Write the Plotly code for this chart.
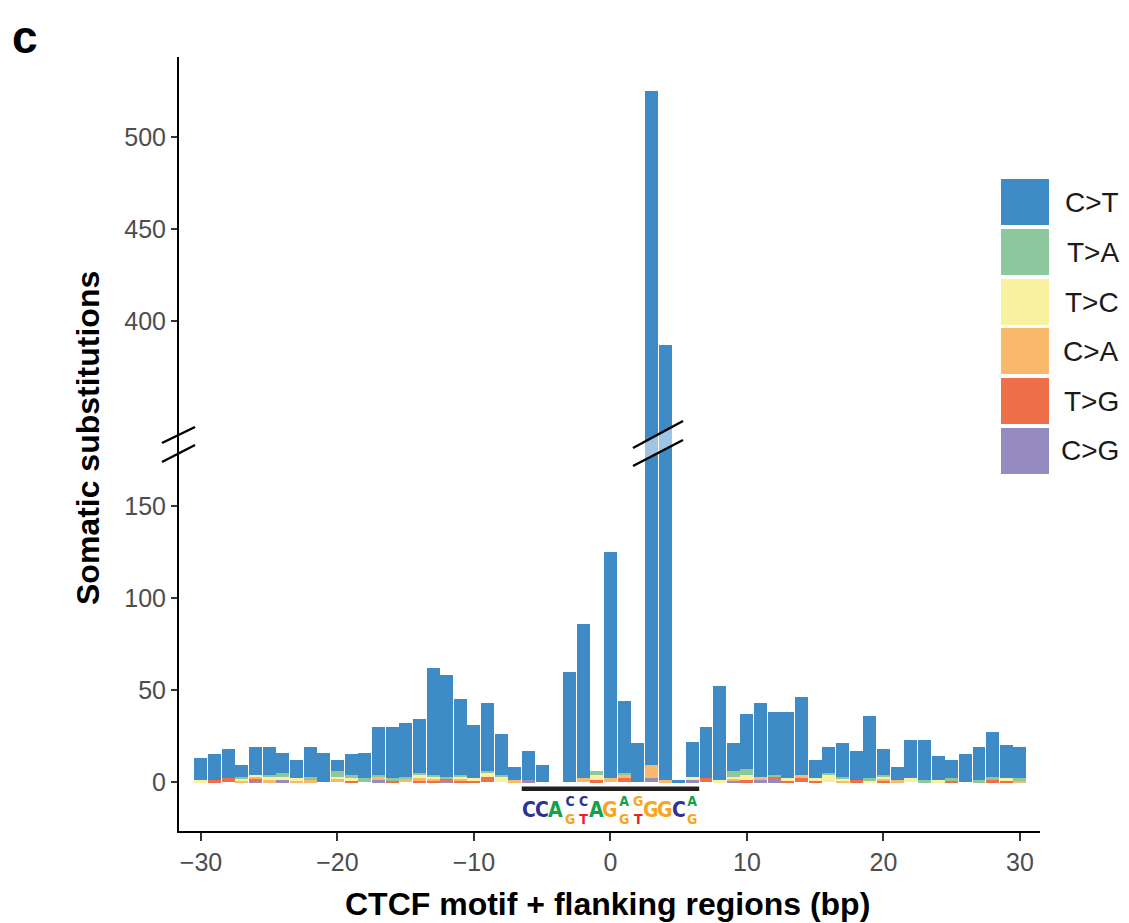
import plotly.graph_objects as go
from plotly.subplots import make_subplots

# ---------------- data ----------------
positions = list(range(-30, 31))

c_to_t = [12, 14, 16, 6, 15, 15, 11, 10, 16, 16, 6, 11, 14, 26, 28, 29, 29, 58, 55, 41,
          29, 37, 22, 7, 16, 9, 0, 60, 84, 0, 123, 39, 21, 516, 386, 1, 19, 28, 51, 15,
          30, 40, 34, 36, 42, 10, 14, 18, 16, 34, 14, 7, 21, 22, 13, 10, 15, 18, 24, 18, 17]
t_to_a = [0, 0, 0, 1, 0, 1, 2, 0, 2, 0, 3, 2, 2, 1, 1, 1, 1, 1, 1, 1,
          0, 1, 1, 0, 0, 0, 0, 0, 0, 2, 0, 1, 0, 0, 0, 0, 0, 0, 0, 3,
          3, 0, 1, 0, 0, 0, 1, 1, 0, 1, 1, 0, 0, 1, 0, 1, 0, 1, 2, 0, 1]
t_to_c = [1, 0, 0, 1, 1, 2, 2, 1, 0, 0, 1, 1, 0, 0, 0, 0, 2, 1, 0, 1,
          1, 2, 3, 0, 0, 0, 0, 0, 0, 3, 0, 0, 0, 0, 0, 0, 2, 0, 1, 1,
          3, 0, 0, 1, 0, 1, 4, 1, 0, 1, 1, 0, 2, 0, 1, 0, 0, 0, 0, 1, 0]
c_to_a = [0, 0, 0, 1, 1, 1, 0, 1, 1, 0, 2, 0, 0, 2, 0, 2, 1, 1, 0, 1,
          0, 0, 0, 1, 0, 0, 0, 0, 2, 0, 2, 2, 0, 7, 1, 0, 0, 0, 0, 1,
          0, 2, 0, 0, 2, 0, 0, 1, 0, 0, 1, 1, 0, 0, 0, 0, 0, 0, 0, 0, 1]
t_to_g = [0, 1, 2, 0, 1, 0, 0, 0, 0, 0, 0, 1, 0, 0, 1, 0, 1, 1, 1, 1,
          1, 3, 0, 0, 0, 0, 0, 0, 0, 1, 0, 2, 0, 0, 0, 0, 0, 2, 0, 0,
          1, 0, 2, 1, 2, 1, 0, 0, 1, 0, 1, 0, 0, 0, 0, 1, 0, 0, 1, 1, 0]
c_to_g = [0, 0, 0, 0, 1, 0, 1, 0, 0, 0, 0, 0, 0, 1, 0, 0, 0, 0, 1, 0,
          0, 0, 0, 0, 1, 0, 0, 0, 0, 0, 0, 0, 0, 2, 0, 0, 1, 0, 0, 1,
          0, 1, 1, 0, 0, 0, 0, 0, 0, 0, 0, 0, 0, 0, 0, 0, 0, 0, 0, 0, 0]

x_ticks = [-30, -20, -10, 0, 10, 20, 30]
y_ticks_low = [0, 50, 100, 150]
y_ticks_high = [400, 450, 500]

# CTCF core motif logo (CCASYAGRKGGCR): top letter, bottom letter (or None)
motif_pos = list(range(-6, 7))
motif_top = ["C", "C", "A", "C", "C", "A", "G", "A", "G", "G", "G", "C", "A"]
motif_bottom = [None, None, None, "G", "T", None, None, "G", "T", None, None, None, "G"]

# stacking order bottom -> top
series_names = ["C>G", "T>G", "C>A", "T>C", "T>A", "C>T"]
series_vals = [c_to_g, t_to_g, c_to_a, t_to_c, t_to_a, c_to_t]
series_cols = ["#968BBF", "#EE6F4A", "#F8B96C", "#F7F1A0", "#8DC79D", "#3E8BC5"]
letter_cols = {"C": "#2E3192", "A": "#10A24B", "G": "#F6A623", "T": "#E8202A"}

# ---------------- geometry (reference pixel coords -> paper) ----------------
OFF = 8                      # page body margin of the html page
W, H = 1129 - OFF, 923 - OFF
L, R, T, B = 179, 1040, 57, 831   # plot area in reference (window) pixels


def px(x):
    return (x - L) / (R - L)


def py(y):
    return (B - y) / (B - T)


fig = make_subplots(rows=2, cols=1, shared_xaxes=True, vertical_spacing=0)

for name, vals, col in zip(series_names, series_vals, series_cols):
    for row in (1, 2):
        fig.add_trace(go.Bar(x=positions, y=vals, name=name,
                             marker=dict(color=col, line=dict(width=0)),
                             showlegend=False), row=row, col=1)

tickfont = dict(family="Liberation Sans, Arial, sans-serif", size=25, color="#4D4D4D")
axis_common = dict(showline=True, linecolor="black", linewidth=2, ticks="outside",
                   tickcolor="#333333", tickwidth=1.5, showgrid=False, zeroline=False,
                   tickfont=tickfont)

fig.update_layout(
    width=W, height=H, barmode="stack", bargap=0.05,
    paper_bgcolor="white", plot_bgcolor="white",
    margin=dict(l=L - OFF, r=W - (R - OFF), t=T - OFF, b=H - (B - OFF)),
    font=dict(family="Liberation Sans, Arial, sans-serif"),
    showlegend=False,
)
fig.update_yaxes(row=1, col=1, range=[333.15, 543.5], tickvals=y_ticks_high,
                 ticklen=6, **axis_common)
fig.update_yaxes(row=2, col=1, range=[-26.6, 183.7], tickvals=y_ticks_low,
                 ticklen=6, **axis_common)
fig.update_xaxes(row=1, col=1, range=[-31.61, 31.47], showline=False, showticklabels=False,
                 ticks="", showgrid=False, zeroline=False)
fig.update_xaxes(row=2, col=1, range=[-31.61, 31.47], tickvals=x_ticks, ticklen=8,
                 **axis_common)

shapes = []
ann = []

# axis break marks
for (x0, y0, x1, y1) in [(162, 443, 195, 427), (162, 462, 195, 445)]:
    shapes.append(dict(type="line", xref="paper", yref="paper", x0=px(x0), y0=py(y0),
                       x1=px(x1), y1=py(y1), line=dict(color="black", width=2.5)))
path = "M {} {} L {} {} L {} {} L {} {} Z".format(px(633), py(448), px(683), py(421),
                                                  px(683), py(440), px(633), py(466))
shapes.append(dict(type="path", xref="paper", yref="paper", path=path,
                   fillcolor="rgba(255,255,255,0.5)", line=dict(width=0), layer="above"))
for (x0, y0, x1, y1) in [(633, 448, 683, 421), (633, 466, 683, 440)]:
    shapes.append(dict(type="line", xref="paper", yref="paper", x0=px(x0), y0=py(y0),
                       x1=px(x1), y1=py(y1), line=dict(color="black", width=2.5)))

# motif bar
shapes.append(dict(type="rect", xref="x2", yref="paper", x0=motif_pos[0] - 0.5,
                   x1=motif_pos[-1] + 0.5, y0=py(791), y1=py(786.5),
                   fillcolor="#231F20", line=dict(width=0)))

logo_font = "Liberation Sans Narrow, Arial Narrow, DejaVu Sans Condensed, Liberation Sans"


def span(letter):
    return '<span style="color:%s"><b>%s</b></span>' % (letter_cols[letter], letter)


for p, top, bot in zip(motif_pos, motif_top, motif_bottom):
    if bot is None:
        ann.append(dict(x=p, y=py(810), xref="x2", yref="paper", text=span(top),
                        showarrow=False, xanchor="center", yanchor="middle",
                        borderpad=0, borderwidth=0,
                        font=dict(family=logo_font, size=21, color=letter_cols[top])))
    else:
        ann.append(dict(x=p, y=py(810), xref="x2", yref="paper",
                        text=span(top) + "<br>" + span(bot),
                        showarrow=False, xanchor="center", yanchor="middle",
                        borderpad=0, borderwidth=0,
                        font=dict(family=logo_font, size=14, color=letter_cols[top])))

# legend (drawn manually to match the large swatches)
legend_order = ["C>T", "T>A", "T>C", "C>A", "T>G", "C>G"]
legend_tops = [179, 229, 279, 328, 378, 428]
for name, top in zip(legend_order, legend_tops):
    col = series_cols[series_names.index(name)]
    shapes.append(dict(type="rect", xref="paper", yref="paper", x0=px(1001), x1=px(1049),
                       y0=py(top + 46), y1=py(top), fillcolor=col, line=dict(width=0)))
    ann.append(dict(x=px(1119), y=py(top + 23), xref="paper", yref="paper",
                    text=name.replace(">", "&gt;"), showarrow=False,
                    xanchor="right", yanchor="middle", borderpad=0, borderwidth=0,
                    font=dict(size=28, color="#1A1A1A")))

# titles
ann.append(dict(x=px(88), y=py(438), xref="paper", yref="paper",
                text="<b>Somatic substitutions</b>", textangle=-90, showarrow=False,
                xanchor="center", yanchor="middle", font=dict(size=32, color="black")))
ann.append(dict(x=px(607), y=py(904), xref="paper", yref="paper",
                text="<b>CTCF motif + flanking regions (bp)</b>", showarrow=False,
                xanchor="center", yanchor="middle", font=dict(size=32, color="black")))
ann.append(dict(x=px(12), y=py(37), xref="paper", yref="paper", text="<b>c</b>",
                showarrow=False, xanchor="left", yanchor="middle",
                borderpad=0, borderwidth=0,
                font=dict(size=46, color="black")))

fig.update_layout(shapes=shapes, annotations=ann)
fig.write_html("out.html")
